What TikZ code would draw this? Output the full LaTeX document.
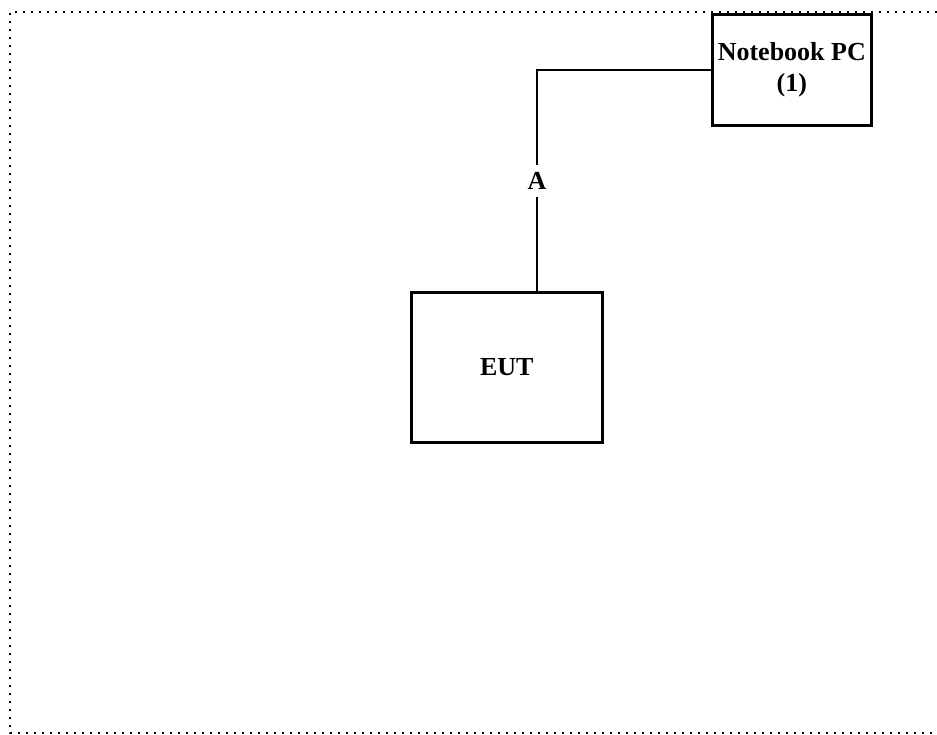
\documentclass[tikz,border=0pt]{standalone}
\usepackage{fontspec}
\setmainfont{Liberation Serif}
\usepackage{tikz}
\usetikzlibrary{positioning,calc}

\begin{document}
\begin{tikzpicture}[x=1pt,y=-1pt,
    every node/.style={font=\fontsize{26}{31}\selectfont\bfseries},
    unitbox/.style={draw,line width=2.6pt,rectangle,align=center,inner sep=0pt},
    wire/.style={line width=1.8pt},
    cablelbl/.style={fill=white,inner xsep=2pt,inner ysep=7pt},
    frame/.style={line width=2.6pt,dash pattern=on 2pt off 6pt}
  ]
  \useasboundingbox (0,0) rectangle (937,735);

  % the test area
  \draw[frame] (945,12) -- (10,12) -- (10,733) -- (945,733);

  % the units
  \node[unitbox,minimum width=159pt,minimum height=111pt,anchor=north west]
    (pc) at (711,13) {Notebook PC\\(1)};
  \node[unitbox,minimum width=191pt,minimum height=150pt,anchor=north west]
    (eut) at (410,291) {EUT};

  % the cable
  \node[cablelbl] (cabA) at (537,181) {A};
  \coordinate (bend) at (cabA |- pc.west);
  \draw[wire] (pc.west) -- (bend) -- (cabA.north);
  \draw[wire] (cabA.south) -- (cabA.south |- eut.north);
\end{tikzpicture}
\end{document}
